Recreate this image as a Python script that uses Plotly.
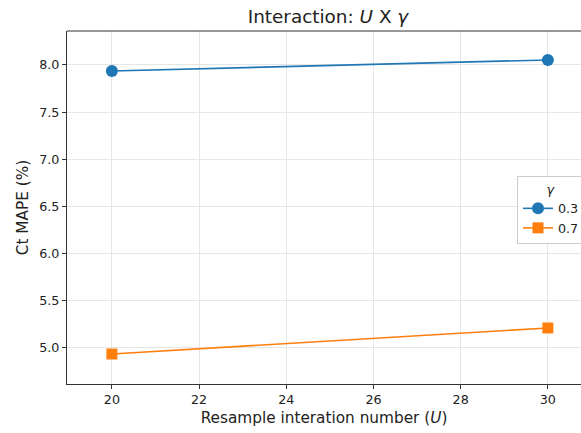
import plotly.graph_objects as go

u_values = [20, 30]
gamma_labels = ["0.3", "0.7"]
mape_gamma_03 = [7.936, 8.053]
mape_gamma_07 = [4.936, 5.212]

x_ticks = [20, 22, 24, 26, 28, 30]
y_ticks = [5.0, 5.5, 6.0, 6.5, 7.0, 7.5, 8.0]

FONT = "DejaVu Sans"
fig = go.Figure()
fig.add_trace(go.Scatter(x=u_values, y=mape_gamma_03, mode="lines+markers", name=gamma_labels[0],
                         line=dict(color="#1f77b4", width=1.6),
                         marker=dict(symbol="circle", size=12, color="#1f77b4")))
fig.add_trace(go.Scatter(x=u_values, y=mape_gamma_07, mode="lines+markers", name=gamma_labels[1],
                         line=dict(color="#ff7f0e", width=1.6),
                         marker=dict(symbol="square", size=11, color="#ff7f0e")))

axis_common = dict(showline=True, linecolor="#333333", linewidth=1, ticks="outside", ticklen=4,
                   tickcolor="#333333", showgrid=True, gridcolor="#e6e6e6", gridwidth=1,
                   zeroline=False, tickfont=dict(family=FONT, size=12.7, color="#222222"))
fig.update_layout(
    width=581, height=433,
    margin=dict(l=67, r=0, t=31, b=49, autoexpand=False),
    paper_bgcolor="white", plot_bgcolor="white",
    title=dict(text="Interaction: <i>U</i> X <i>γ</i>", xref="container", x=328 / 581, xanchor="center",
               y=1 - 17 / 433, yanchor="middle", font=dict(family=FONT, size=18.4, color="#222222")),
    xaxis=dict(range=[18.97, 30.76], tickvals=x_ticks, mirror=False,
               title=dict(text="Resample interation number (<i>U</i>)", standoff=6,
                          font=dict(family=FONT, size=15.3, color="#222222")), **axis_common),
    yaxis=dict(range=[4.618, 8.36], tickvals=y_ticks, tickformat=".1f",
               title=dict(text="Ct MAPE (%)", standoff=6,
                          font=dict(family=FONT, size=15.3, color="#222222")), **axis_common),
    legend=dict(x=0.8755, y=0.589, xanchor="left", yanchor="top",
                title=dict(text="<i>γ</i>", side="top center", font=dict(family=FONT, size=12.7)),
                font=dict(family=FONT, size=12.7, color="#222222"),
                bgcolor="rgba(255,255,255,0.9)", bordercolor="#cccccc", borderwidth=1,
                itemwidth=30, tracegroupgap=2),
    showlegend=True,
)
fig.add_shape(type="line", xref="paper", yref="paper", x0=0, x1=1, y0=1, y1=1,
              line=dict(color="#333333", width=1))
fig.write_html("out.html")
